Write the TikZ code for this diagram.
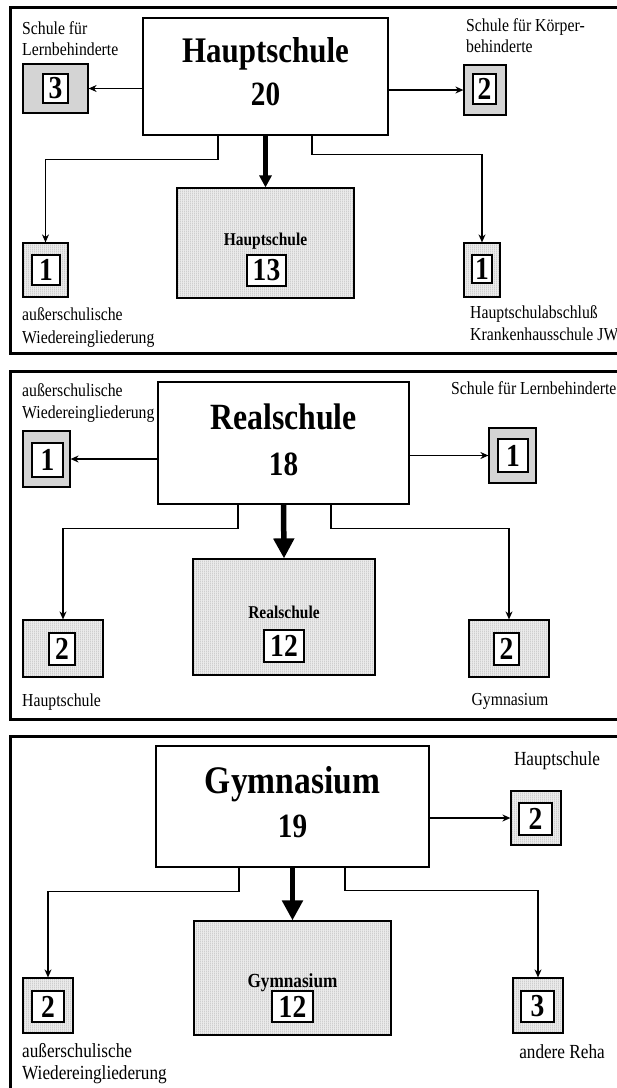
\documentclass[tikz,border=0pt]{standalone}
\usepackage{fontspec}
\setmainfont[FakeStretch=0.86]{Liberation Serif}
\usetikzlibrary{arrows.meta,patterns.meta}
\pgfdeclarepattern{
  name=vstripes,
  type=uncolored,
  bottom left={\pgfpoint{0pt}{0pt}},
  top right={\pgfpoint{2pt}{2pt}},
  tile size={\pgfpoint{2pt}{2pt}},
  code={\pgfpathrectangle{\pgfpoint{0pt}{0pt}}{\pgfpoint{0.8pt}{2pt}}\pgfusepath{fill}}
}
\newcommand\labfont{\fontsize{18.3}{22}\selectfont}
\newcommand\labfontb{\fontsize{20}{22}\selectfont}
\newcommand\numfont{\fontsize{32}{32}\selectfont\bfseries}
\newcommand\mybox[6]{\node[#6, minimum width={(#4)-(#2)}, minimum height={(#5)-(#3)}] (#1) at ({((#2)+(#4))/2},{((#3)+(#5))/2}) {};}
\newcommand\mynum[6]{\node[numbox, minimum width={(#4)-(#2)}, minimum height={(#5)-(#3)}] (#1) at ({((#2)+(#4))/2},{((#3)+(#5))/2}) {#6};}
\tikzset{
  frame/.style={line width=3pt},
  mainbox/.style={draw, line width=1.5pt, fill=white, inner sep=0pt},
  solidbox/.style={draw, line width=1.2pt, fill=black!17, inner sep=0pt},
  stripebox/.style={draw, line width=1.2pt, inner sep=0pt, preaction={fill=black!8}, pattern=vstripes, pattern color=black!25},
  numbox/.style={draw, line width=1.2pt, fill=white, inner sep=0pt, font=\numfont},
  arr/.style={line width=1.2pt, -{Stealth[length=8pt,width=7pt]}},
  thk/.style={line width=5.5pt, -{Triangle[length=#1,width=#1]}},
  lab/.style={anchor=base west, inner sep=0pt, font=\labfont},
  labc/.style={anchor=base, inner sep=0pt, font=\labfont},
  labb/.style={anchor=base west, inner sep=0pt, font=\labfontb},
  labbc/.style={anchor=base, inner sep=0pt, font=\labfontb},
  title/.style={anchor=base, inner sep=0pt, font=\fontsize{#1}{#1}\selectfont\bfseries},
  ctitle/.style={anchor=base, inner sep=0pt, font=\fontsize{18}{18}\selectfont\bfseries},
}
\begin{document}
\begin{tikzpicture}[x=1pt,y=-1pt]
\useasboundingbox (0,0) rectangle (617,1088);
% ---------------- Panel 1 ----------------
\draw[frame] (617,7) -- (10,7) -- (10,353) -- (617,353);
\mybox{m1}{143}{18}{388}{135}{mainbox}
\node[title=36] (t1) at (265.5,62.5) {Hauptschule};
\node[title=34] (n1) at (265.5,105) {20};
\mybox{l1}{23}{64}{88}{113}{solidbox}
\mynum{l1n}{43}{74}{68}{103}{3}
\mybox{r1}{464}{65}{506}{115}{solidbox}
\mynum{r1n}{473}{74}{496}{104}{2}
\mybox{c1}{177}{188}{354}{298}{stripebox}
\node[ctitle] (c1t) at (265.5,245) {Hauptschule};
\mynum{c1n}{247}{255}{286}{286}{13}
\mybox{bl1}{23}{243}{68}{297}{stripebox}
\mynum{bl1n}{32}{255}{60}{285}{1}
\mybox{br1}{464}{243}{500}{297}{stripebox}
\mynum{br1n}{472}{255}{492}{283}{1}
\draw[arr] (m1.west |- l1.east) -- (l1.east);
\draw[arr] (m1.east |- r1.west) -- (r1.west);
\draw[thk=12pt] (m1.south) -- (c1.north);
\draw[arr] ([xshift=-47.5pt]m1.south) -- ++(0,24) -| (bl1.north);
\draw[arr] ([xshift=46.5pt]m1.south) -- ++(0,19) -| (br1.north);
\node[lab] (p1a) at (22,34) {Schule für};
\node[lab] (p1b) at (22,55) {Lernbehinderte};
\node[lab] (p1c) at (466,31) {Schule für Körper-};
\node[lab] (p1d) at (466,52) {behinderte};
\node[lab] (p1e) at (22,320) {außerschulische};
\node[lab] (p1f) at (22,343) {Wiedereingliederung};
\node[lab] (p1g) at (470,318) {Hauptschulabschluß};
\node[lab] (p1h) at (470,340) {Krankenhausschule JW};
% ---------------- Panel 2 ----------------
\draw[frame] (617,371) -- (10,371) -- (10,719) -- (617,719);
\mybox{m2}{158}{382}{409}{504}{mainbox}
\node[title=37] (t2) at (283.5,429) {Realschule};
\node[title=34] (n2) at (283.5,475) {18};
\mybox{l2}{23}{431}{70}{487}{solidbox}
\mynum{l2n}{32}{443}{63}{477}{1}
\mybox{r2}{489}{428}{536}{483}{solidbox}
\mynum{r2n}{498}{439}{528}{472}{1}
\mybox{c2}{193}{559}{375}{675}{stripebox}
\node[ctitle] (c2t) at (284,618) {Realschule};
\mynum{c2n}{264}{630}{304}{662}{12}
\mybox{bl2}{23}{620}{103}{677}{stripebox}
\mynum{bl2n}{49}{633}{75}{665}{2}
\mybox{br2}{469}{620}{549}{677}{stripebox}
\mynum{br2n}{494}{633}{519}{665}{2}
\draw[arr] (m2.west |- l2.east) -- (l2.east);
\draw[arr] (m2.east |- r2.west) -- (r2.west);
\draw[thk=20pt] (m2.south) -- (c2.north);
\draw[arr] ([xshift=-45.5pt]m2.south) -- ++(0,24) -| (bl2.north);
\draw[arr] ([xshift=47.5pt]m2.south) -- ++(0,24) -| (br2.north);
\node[lab] (p2a) at (22,396) {außerschulische};
\node[lab] (p2b) at (22,418) {Wiedereingliederung};
\node[lab] (p2c) at (451,394) {Schule für Lernbehinderte};
\node[lab] (p2d) at (22,706) {Hauptschule};
\node[labc] (p2e) at (510,705) {Gymnasium};
% ---------------- Panel 3 ----------------
\draw[frame] (617,736) -- (10,736) -- (10,1088);
\mybox{m3}{156}{746}{429}{867}{mainbox}
\node[title=39] (t3) at (292.5,793) {Gymnasium};
\node[title=34] (n3) at (292.5,837) {19};
\mybox{r3}{511}{791}{561}{845}{stripebox}
\mynum{r3n}{519}{803}{552}{835}{2}
\mybox{c3}{194}{921}{391}{1035}{stripebox}
\node[ctitle, font=\fontsize{20}{20}\selectfont\bfseries] (c3t) at (292.5,987) {Gymnasium};
\mynum{c3n}{272}{991}{313}{1022}{12}
\mybox{bl3}{23}{978}{73}{1033}{stripebox}
\mynum{bl3n}{32}{991}{64}{1022}{2}
\mybox{br3}{513}{978}{563}{1033}{stripebox}
\mynum{br3n}{521}{991}{554}{1022}{3}
\draw[arr] (m3.east |- r3.west) -- (r3.west);
\draw[thk=20pt] (m3.south) -- (c3.north);
\draw[arr] ([xshift=-53.5pt]m3.south) -- ++(0,24) -| (bl3.north);
\draw[arr] ([xshift=52.5pt]m3.south) -- ++(0,23) -| (br3.north);
\node[labbc] (p3a) at (557,765) {Hauptschule};
\node[labb] (p3b) at (22,1057) {außerschulische};
\node[labb] (p3c) at (22,1079) {Wiedereingliederung};
\node[labbc] (p3d) at (562,1058) {andere Reha};
\end{tikzpicture}
\end{document}
